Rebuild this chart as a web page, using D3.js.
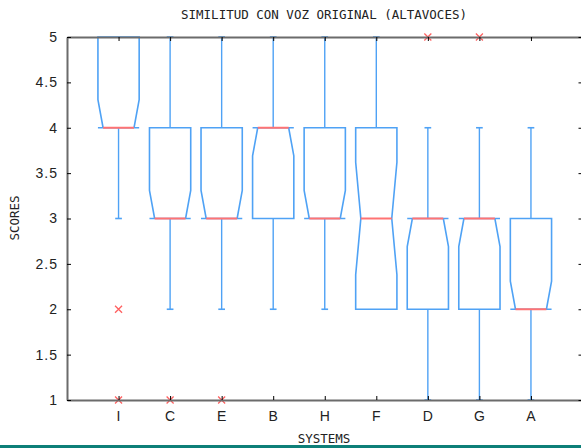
<!DOCTYPE html>
<html>
<head>
<meta charset="utf-8">
<script src="https://cdn.jsdelivr.net/npm/d3@7"></script>
<style>
  body { margin: 0; background: #fff; }
  .axis text { font-family: "Liberation Sans", Arial, sans-serif; font-size: 14px; fill: #222; letter-spacing: 1px; }
  .mono { font-family: "DejaVu Sans Mono", monospace; font-size: 12.5px; fill: #222; }
</style>
</head>
<body>
<svg id="chart"></svg>
<script>
// box plot stats per system
var systems   = ["I", "C", "E", "B", "H", "F", "D", "G", "A"];
var q1        = [4, 3, 3, 3, 3, 2, 2, 2, 2];
var medians   = [4, 3, 3, 4, 3, 3, 3, 3, 2];
var q3        = [5, 4, 4, 4, 4, 4, 3, 3, 3];
var whiskerLo = [3, 2, 2, 2, 2, 2, 1, 1, 1];
var whiskerHi = [5, 5, 5, 5, 5, 5, 4, 4, 4];
var notchLo   = [3.69, 2.69, 2.69, 3.69, 2.69, 2.38, 2.69, 2.69, 1.69];
var notchHi   = [4.31, 3.31, 3.31, 4.31, 3.31, 3.62, 3.31, 3.31, 2.31];
var outliers  = [[2, 1], [1], [1], [], [], [], [5], [5], []];
var yTicks    = [1, 1.5, 2, 2.5, 3, 3.5, 4, 4.5, 5];

var svgWidth = 581, svgHeight = 448;
var svg = d3.select("#chart").attr("width", svgWidth).attr("height", svgHeight);

var xScale = d3.scaleLinear().domain([0, 10]).range([67, 582.5]);
var yScale = d3.scaleLinear().domain([1, 5]).range([400, 37]);

var boxColor = "#4fa2f5";
var boxW = 0.4, notchW = 0.3, capW = 0.065;

var data = systems.map(function (s, i) {
  return {
    name: s, pos: i + 1, q1: q1[i], med: medians[i], q3: q3[i],
    lo: whiskerLo[i], hi: whiskerHi[i],
    nLo: Math.max(notchLo[i], q1[i]), nHi: Math.min(notchHi[i], q3[i]),
    out: outliers[i]
  };
});

var plot = svg.append("g");

// notched boxes
plot.selectAll(".box")
  .data(data)
  .enter()
  .append("path")
  .attr("class", "box")
  .attr("fill", "none")
  .attr("stroke", boxColor)
  .attr("stroke-width", 1.6)
  .attr("d", function (d) {
    var l = xScale(d.pos - boxW), r = xScale(d.pos + boxW);
    var nl = xScale(d.pos - notchW), nr = xScale(d.pos + notchW);
    var pts = [
      [l, yScale(d.q1)], [r, yScale(d.q1)], [r, yScale(d.nLo)], [nr, yScale(d.med)],
      [r, yScale(d.nHi)], [r, yScale(d.q3)], [l, yScale(d.q3)], [l, yScale(d.nHi)],
      [nl, yScale(d.med)], [l, yScale(d.nLo)]
    ];
    return d3.line()(pts) + "Z";
  });

// whiskers
data.forEach(function (d) {
  var x = xScale(d.pos);
  [[d.q3, d.hi], [d.q1, d.lo]].forEach(function (w) {
    if (w[0] === w[1]) return;
    plot.append("line")
      .attr("x1", x).attr("x2", x)
      .attr("y1", yScale(w[0])).attr("y2", yScale(w[1]))
      .attr("stroke", boxColor).attr("stroke-width", 1.4);
    plot.append("line")
      .attr("x1", xScale(d.pos - capW)).attr("x2", xScale(d.pos + capW))
      .attr("y1", yScale(w[1])).attr("y2", yScale(w[1]))
      .attr("stroke", boxColor).attr("stroke-width", 1.6);
  });
});

// medians
plot.selectAll(".median")
  .data(data)
  .enter()
  .append("line")
  .attr("class", "median")
  .attr("x1", function (d) { return xScale(d.pos - notchW); })
  .attr("x2", function (d) { return xScale(d.pos + notchW); })
  .attr("y1", function (d) { return yScale(d.med); })
  .attr("y2", function (d) { return yScale(d.med); })
  .attr("stroke", "#ff7373")
  .attr("stroke-width", 2);

// outliers
data.forEach(function (d) {
  d.out.forEach(function (v) {
    var x = xScale(d.pos), y = yScale(v), s = 3.5;
    plot.append("path")
      .attr("d", "M" + (x - s) + "," + (y - s) + "L" + (x + s) + "," + (y + s) +
                 "M" + (x - s) + "," + (y + s) + "L" + (x + s) + "," + (y - s))
      .attr("stroke", "#ff6161")
      .attr("stroke-width", 1.3);
  });
});

// axes
var xTicks = data.map(function (d) { return d.pos; });
function styleAxis(g) {
  g.select(".domain").attr("stroke", "#6b6b6b").attr("stroke-width", 2);
  g.selectAll(".tick line").attr("stroke", "#000");
}

svg.append("g").attr("class", "axis")
  .attr("transform", "translate(0,400)")
  .call(d3.axisBottom(xScale).tickValues(xTicks).tickSizeInner(-4).tickSizeOuter(0).tickPadding(11)
    .tickFormat(function (d) { return systems[d - 1]; }))
  .call(styleAxis);

svg.append("g").attr("class", "axis")
  .attr("transform", "translate(0,37)")
  .call(d3.axisTop(xScale).tickValues(xTicks).tickSizeInner(-4).tickSizeOuter(0).tickFormat(""))
  .call(styleAxis);

svg.append("g").attr("class", "axis")
  .attr("transform", "translate(67,0)")
  .call(d3.axisLeft(yScale).tickValues(yTicks).tickSizeInner(-4).tickSizeOuter(0).tickPadding(9)
    .tickFormat(d3.format("")))
  .call(styleAxis);

svg.append("g").attr("class", "axis")
  .attr("transform", "translate(582.5,0)")
  .call(d3.axisRight(yScale).tickValues(yTicks).tickSizeInner(-4).tickSizeOuter(0).tickFormat(""))
  .call(styleAxis);

// titles
svg.append("text").attr("class", "mono")
  .attr("x", 324).attr("y", 18.5).attr("text-anchor", "middle")
  .text("SIMILITUD CON VOZ ORIGINAL (ALTAVOCES)");

svg.append("text").attr("class", "mono")
  .attr("x", 324).attr("y", 443).attr("text-anchor", "middle")
  .text("SYSTEMS");

svg.append("text").attr("class", "mono")
  .attr("transform", "translate(19,218) rotate(-90)")
  .attr("text-anchor", "middle")
  .text("SCORES");

// teal strip along the bottom edge
svg.append("rect")
  .attr("x", 0).attr("y", 445).attr("width", svgWidth).attr("height", 3)
  .attr("fill", "#0d7f78");
</script>
</body>
</html>
